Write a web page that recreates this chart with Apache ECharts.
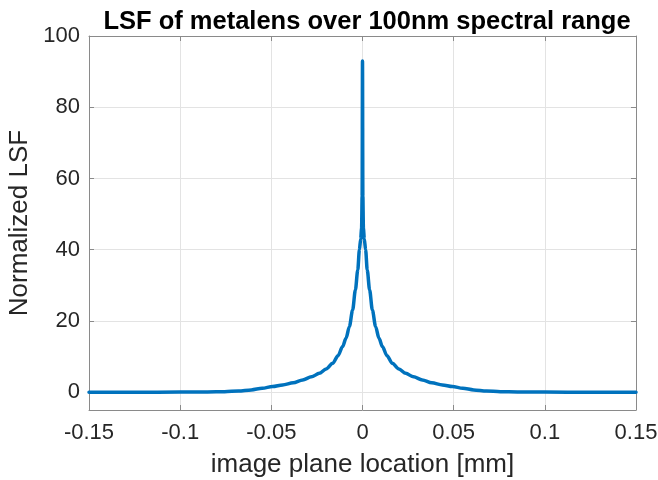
<!DOCTYPE html>
<html>
<head>
<meta charset="utf-8">
<title>LSF of metalens</title>
<script src="https://cdn.jsdelivr.net/npm/echarts@6/dist/echarts.min.js"></script>
<style>
  html, body { margin: 0; padding: 0; background: #ffffff; }
  #chart { width: 658px; height: 480px; }
</style>
</head>
<body>
<div id="chart"></div>
<script>
// Image plane location [mm]
const positions = [
  -0.15, -0.125, -0.1, -0.085, -0.0756, -0.068, -0.061, -0.055, -0.0493, -0.0438,
  -0.038, -0.0328, -0.028, -0.0237, -0.02, -0.0163, -0.0135, -0.0109, -0.009, -0.0072,
  -0.0054, -0.0039, -0.0026, -0.0017, -0.001, -0.0005, -0.0002, 0,
  0.0002, 0.0005, 0.001, 0.0017, 0.0026, 0.0039, 0.0054, 0.0072, 0.009, 0.0109,
  0.0135, 0.0163, 0.02, 0.0237, 0.028, 0.0328, 0.038, 0.0438, 0.0493, 0.055,
  0.061, 0.068, 0.0756, 0.085, 0.1, 0.125, 0.15
];
// Normalized LSF at each position
const lsfValues = [
  0, 0, 0.02, 0.06, 0.15, 0.35, 0.65, 1.1, 1.6, 2.05,
  2.65, 3.45, 4.3, 5.3, 6.5, 8.1, 10.2, 12.8, 15.2, 18.4,
  23.1, 28.7, 34.3, 40, 43, 46, 55, 93,
  55, 46, 43, 40, 34.3, 28.7, 23.1, 18.4, 15.2, 12.8,
  10.2, 8.1, 6.5, 5.3, 4.3, 3.45, 2.65, 2.05, 1.6, 1.1,
  0.65, 0.35, 0.15, 0.06, 0.02, 0, 0
];
const yTicks = [0, 20, 40, 60, 80, 100];

const FONT = '"Liberation Sans", Arial, Helvetica, sans-serif';
const AXIS_COLOR = '#8a8a8a';
const TEXT_COLOR = '#262626';
const GRID_COLOR = '#e3e3e3';

const chart = echarts.init(document.getElementById('chart'), null, { renderer: 'canvas' });

const seriesData = positions.map((x, i) => [x, lsfValues[i]]);

const xCommon = {
  type: 'value',
  min: -0.15,
  max: 0.15,
  interval: 0.05,
  axisLine: { show: true, onZero: false, lineStyle: { color: AXIS_COLOR, width: 1 } },
  axisTick: { show: true, inside: true, length: 5, lineStyle: { color: AXIS_COLOR } }
};
const yCommon = {
  type: 'value',
  min: -5,
  max: 100,
  axisLine: { show: true, onZero: false, lineStyle: { color: AXIS_COLOR, width: 1 } },
  axisTick: { show: true, inside: true, length: 5, customValues: yTicks, lineStyle: { color: AXIS_COLOR } }
};

chart.setOption({
  animation: false,
  backgroundColor: '#ffffff',
  title: {
    text: 'LSF of metalens over 100nm spectral range',
    left: 362,
    textAlign: 'center',
    top: 4,
    textStyle: { fontFamily: FONT, fontSize: 25.5, fontWeight: 'bold', color: '#000000' }
  },
  grid: { left: 89, right: 22, top: 36, bottom: 70, containLabel: false, outerBoundsMode: 'none' },
  xAxis: [
    Object.assign({}, xCommon, {
      position: 'bottom',
      name: 'image plane location [mm]',
      nameLocation: 'middle',
      nameGap: 42,
      nameTextStyle: { fontFamily: FONT, fontSize: 26, color: TEXT_COLOR },
      axisLabel: {
        show: true, margin: 12, fontFamily: FONT, fontSize: 22, color: TEXT_COLOR,
        showMinLabel: true, showMaxLabel: true
      },
      splitLine: { show: true, lineStyle: { color: GRID_COLOR, width: 1 } }
    }),
    Object.assign({}, xCommon, {
      position: 'top',
      axisLabel: { show: false },
      splitLine: { show: false }
    })
  ],
  yAxis: [
    Object.assign({}, yCommon, {
      position: 'left',
      name: 'Normalized LSF',
      nameLocation: 'middle',
      nameRotate: 90,
      nameGap: 52,
      nameTextStyle: { fontFamily: FONT, fontSize: 26, color: TEXT_COLOR },
      axisLabel: {
        show: true, margin: 9, fontFamily: FONT, fontSize: 22, color: TEXT_COLOR,
        customValues: yTicks
      },
      splitLine: { show: true, lineStyle: { color: GRID_COLOR, width: 1 } }
    }),
    Object.assign({}, yCommon, {
      position: 'right',
      axisLabel: { show: false },
      splitLine: { show: false }
    })
  ],
  series: [
    {
      type: 'line',
      xAxisIndex: 0,
      yAxisIndex: 0,
      data: seriesData,
      showSymbol: false,
      smooth: 0.3,
      smoothMonotone: 'x',
      lineStyle: { color: '#0072BD', width: 3.5, join: 'round', cap: 'round' },
      clip: true
    }
  ]
});
</script>
</body>
</html>
